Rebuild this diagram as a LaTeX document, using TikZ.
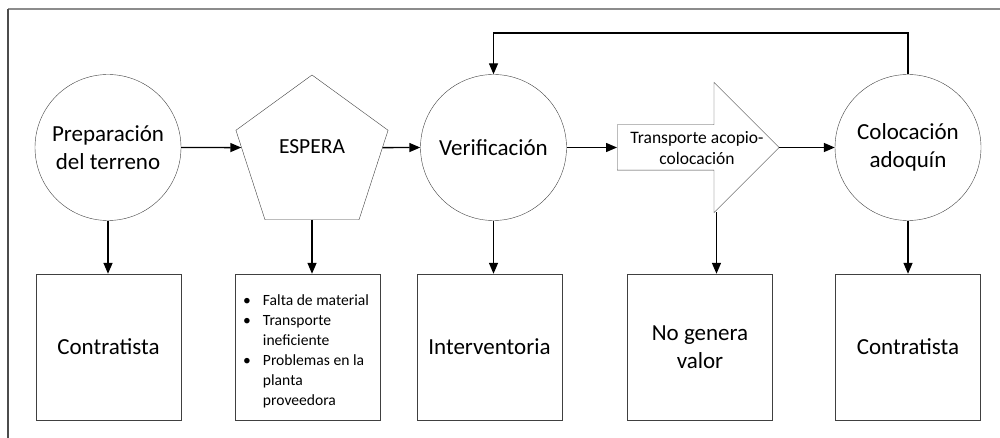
\documentclass[tikz,border=0pt]{standalone}
\usepackage{fontspec}
\setmainfont{Carlito}
\usetikzlibrary{shapes.geometric,shapes.arrows,arrows.meta,calc}

\begin{document}
\begin{tikzpicture}[x=1pt,y=-1pt]
      \tikzset{every node/.style={inner sep=0pt},
        etapa/.style={draw=black!75,circle,minimum size=146pt,align=center,font=\fontsize{23}{28}\selectfont},
        caja/.style={draw=black!75,minimum width=145pt,minimum height=146pt,align=center,font=\fontsize{23}{28}\selectfont},
        flecha/.style={-{Triangle[length=11pt,width=9pt]},line width=1.4pt}}
      \useasboundingbox (0,0) rectangle (1000,438);
      \draw [black!45,line width=1.2pt] (8,9) -- (1001,9);
      \draw [black!70,line width=1.2pt] (8,9) -- (8,439);
      % actividades
      \node [etapa] (prep) at (108,147.5) {Preparación\\del terreno};
      \node [draw=black!75,regular polygon,regular polygon sides=5,minimum size=160pt] (espera) at (312,155) {};
      \node [font=\fontsize{21.5}{26}\selectfont] at (312,147) {ESPERA};
      \node [etapa] (verif) at (493.5,147.5) {Verificación};
      \node [draw=black!75,single arrow,single arrow head extend=42.5pt,minimum height=162pt,anchor=tail] (transp) at (617,147.5) {\rule{0pt}{45pt}};
      \node [align=center,font=\fontsize{17.5}{21}\selectfont] at (697,148) {Transporte acopio-\\colocación};
      \coordinate (transp esq) at ($(transp.tip)+(-63,65)$);
      \node [etapa] (coloc) at (908,147.5) {Colocación\\adoquín};
      % responsables
      \node [caja] (cont1) at (108.5,347) {Contratista};
      \node [caja] (causas) at (308,347) {};
      \node [anchor=west,font=\fontsize{15.6}{20}\selectfont] at (243,351) {\begin{tabular}{@{}l@{\hspace{12pt}}l@{}}
        \textbullet & Falta de material\\
        \textbullet & Transporte\\
         & ineficiente\\
        \textbullet & Problemas en la\\
         & planta\\
         & proveedora
      \end{tabular}};
      \node [caja] (interv) at (489.5,347) {Interventoria};
      \node [caja] (nogen) at (700,347) {No genera\\valor};
      \node [caja] (cont2) at (908,347) {Contratista};
      \coordinate (retorno) at (700,33);
      % conexiones
      \draw [flecha] (prep.east) -- (espera.174);
      \draw [flecha] (espera.6) -- (verif.west);
      \draw [flecha] (verif.east) -- (transp.tail);
      \draw [flecha] (transp.tip) -- (coloc.west);
      \draw [flecha] (coloc.north) -- (coloc.north |- retorno) -| (verif.north);
      \draw [flecha] (prep.south) -- (prep.south |- cont1.north);
      \draw [flecha] (espera.south) -- (espera.south |- causas.north);
      \draw [flecha] (verif.south) -- (verif.south |- interv.north);
      \draw [flecha] (transp esq) -- (transp esq |- nogen.north);
      \draw [flecha] (coloc.south) -- (coloc.south |- cont2.north);
    \end{tikzpicture}
\end{document}
